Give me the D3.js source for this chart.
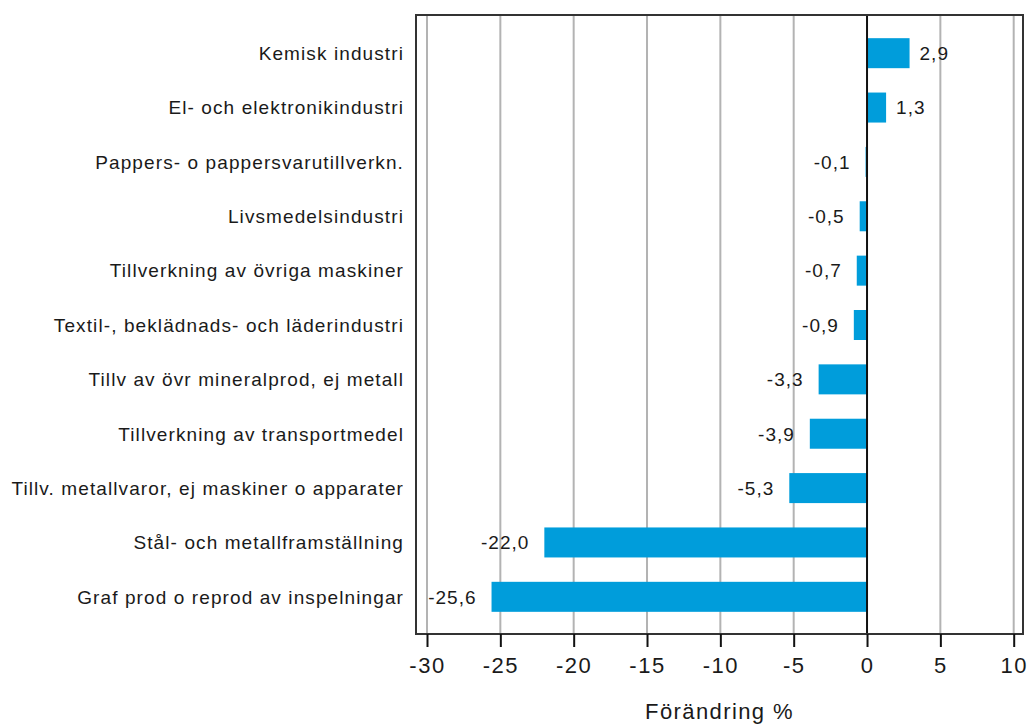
<!DOCTYPE html>
<html>
<head>
<meta charset="utf-8">
<script src="https://cdn.jsdelivr.net/npm/d3@7"></script>
<style>
  body { margin: 0; background: #fff; }
  svg text { font-family: "Liberation Sans", Arial, sans-serif; fill: #1a1a1a; }
</style>
</head>
<body>
<div id="chart"></div>
<script>
(function() {
  'use strict';
  var WIDTH = 1027;
  var HEIGHT = 724;

  var categories = [
    'Kemisk industri',
    'El- och elektronikindustri',
    'Pappers- o pappersvarutillverkn.',
    'Livsmedelsindustri',
    'Tillverkning av övriga maskiner',
    'Textil-, beklädnads- och läderindustri',
    'Tillv av övr mineralprod, ej metall',
    'Tillverkning av transportmedel',
    'Tillv. metallvaror, ej maskiner o apparater',
    'Stål- och metallframställning',
    'Graf prod o reprod av inspelningar'
  ];
  var values = [2.9, 1.3, -0.1, -0.5, -0.7, -0.9, -3.3, -3.9, -5.3, -22.0, -25.6];
  var xTicks = [-30, -25, -20, -15, -10, -5, 0, 5, 10];
  var xTitle = 'Förändring %';

  var frame = {left: 416, top: 15, right: 1023, bottom: 634};

  var svg = d3.select('#chart').append('svg')
    .attr('width', WIDTH)
    .attr('height', HEIGHT);

  var x = d3.scaleLinear()
    .domain([-30, 10])
    .range([427, 1013.7]);

  var y = d3.scaleBand()
    .domain(categories)
    .range([26, 624])
    .paddingInner(0.448)
    .paddingOuter(0.224);

  // grid lines
  svg.append('g').selectAll('line')
    .data(xTicks.filter(function(d) { return d !== 0; }))
    .enter().append('line')
    .attr('x1', function(d) { return x(d); })
    .attr('x2', function(d) { return x(d); })
    .attr('y1', frame.top)
    .attr('y2', frame.bottom)
    .attr('stroke', '#b3b3b3')
    .attr('stroke-width', 2);

  // bars
  svg.append('g').selectAll('rect')
    .data(values)
    .enter().append('rect')
    .attr('x', function(d) { return x(Math.min(0, d)); })
    .attr('y', function(d, i) { return y(categories[i]); })
    .attr('width', function(d) { return Math.abs(x(d) - x(0)); })
    .attr('height', y.bandwidth())
    .attr('fill', '#009ddb');

  // zero line
  svg.append('line')
    .attr('x1', x(0)).attr('x2', x(0))
    .attr('y1', frame.top).attr('y2', frame.bottom)
    .attr('stroke', '#111')
    .attr('stroke-width', 2);

  // frame
  svg.append('rect')
    .attr('x', frame.left)
    .attr('y', frame.top)
    .attr('width', frame.right - frame.left)
    .attr('height', frame.bottom - frame.top)
    .attr('fill', 'none')
    .attr('stroke', '#333')
    .attr('stroke-width', 2);

  // value labels
  svg.append('g').selectAll('text')
    .data(values)
    .enter().append('text')
    .attr('x', function(d) { return d >= 0 ? x(d) + 10 : x(d) - 15; })
    .attr('y', function(d, i) { return y(categories[i]) + y.bandwidth() / 2; })
    .attr('dy', '.36em')
    .attr('text-anchor', function(d) { return d >= 0 ? 'start' : 'end'; })
    .style('font-size', '19px')
    .style('letter-spacing', '1px')
    .text(function(d) { return d3.format('.1f')(d).replace('.', ',').replace('−', '-'); });

  // category labels
  svg.append('g').selectAll('text')
    .data(categories)
    .enter().append('text')
    .attr('x', 404)
    .attr('y', function(d) { return y(d) + y.bandwidth() / 2; })
    .attr('dy', '.36em')
    .attr('text-anchor', 'end')
    .style('font-size', '19px')
    .style('letter-spacing', '1.1px')
    .text(function(d) { return d; });

  // x axis
  var xAxis = d3.axisBottom(x)
    .tickValues(xTicks)
    .tickSize(13)
    .tickPadding(10)
    .tickFormat(function(d) { return String(d); });

  var gx = svg.append('g')
    .attr('transform', 'translate(0,' + frame.bottom + ')')
    .call(xAxis);
  gx.select('.domain').remove();
  gx.selectAll('.tick line').attr('stroke', '#111').attr('stroke-width', 2);
  gx.selectAll('.tick text')
    .attr('fill', '#1a1a1a')
    .style('font-family', '"Liberation Sans", Arial, sans-serif')
    .style('font-size', '22px')
    .style('letter-spacing', '1.5px');

  svg.append('text')
    .attr('x', (frame.left + frame.right) / 2)
    .attr('y', 719)
    .attr('text-anchor', 'middle')
    .style('font-size', '22px')
    .style('letter-spacing', '1.4px')
    .text(xTitle);
})();
</script>
</body>
</html>
